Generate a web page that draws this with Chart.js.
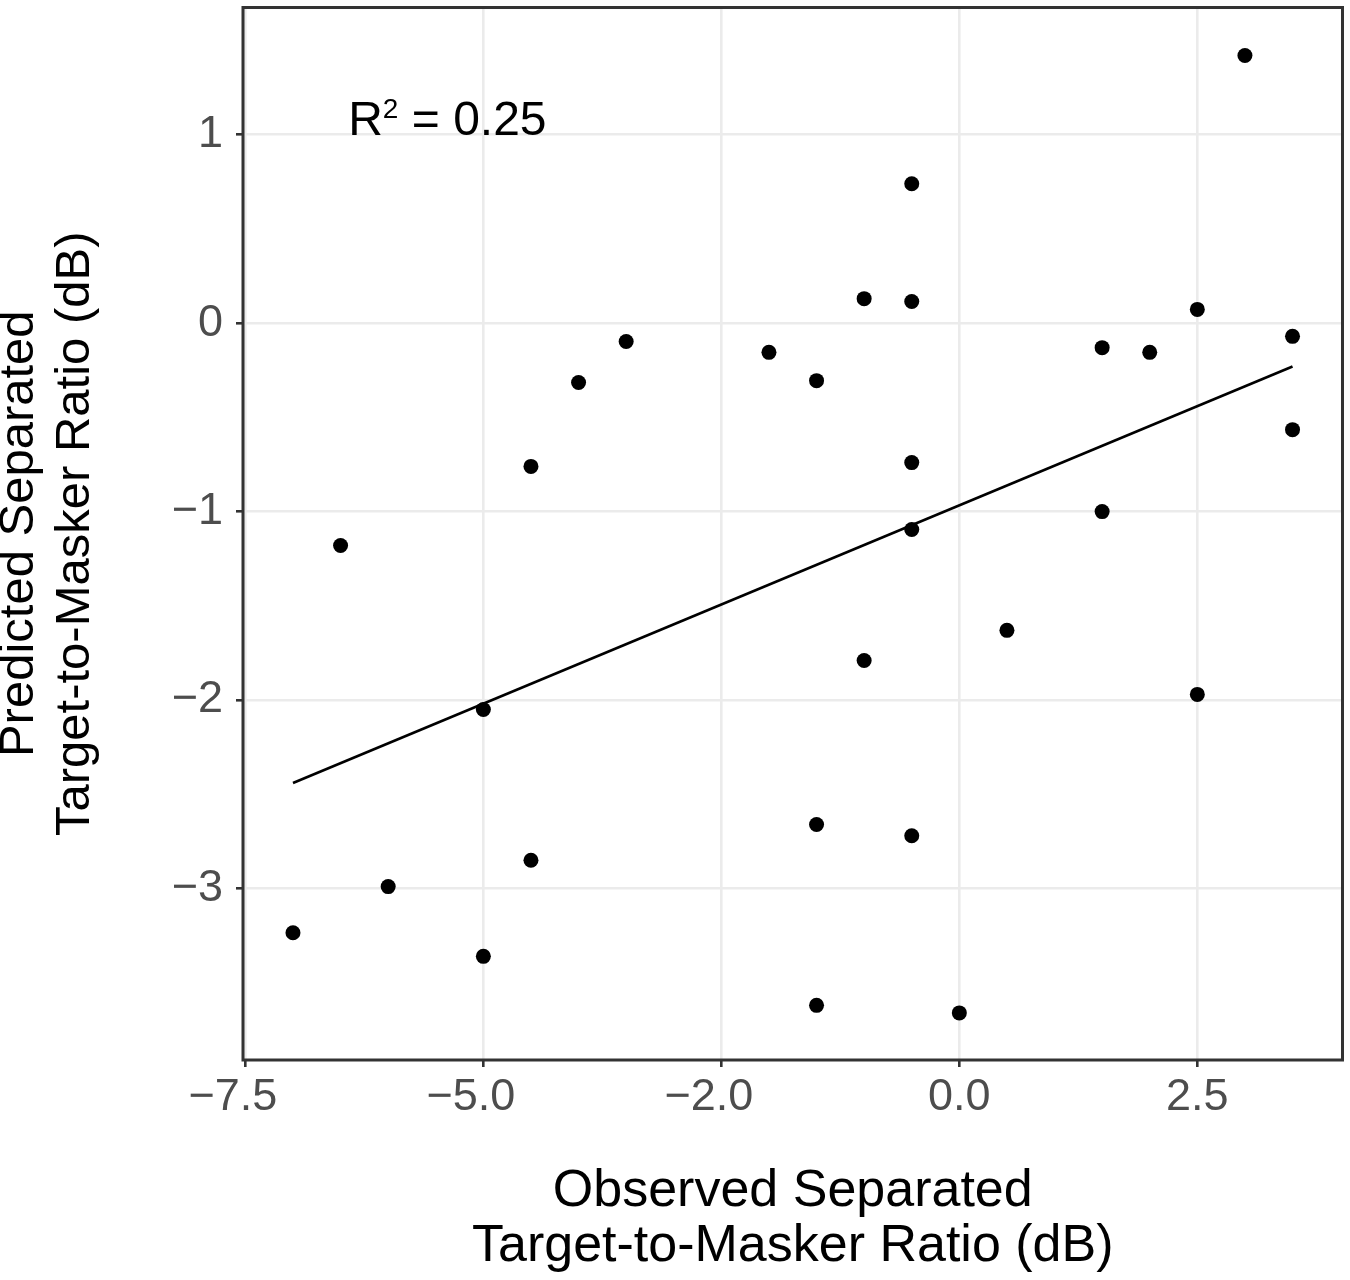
<!DOCTYPE html>
<html>
<head>
<meta charset="utf-8">
<title>Observed vs predicted separated TMR</title>
<script src="https://cdn.jsdelivr.net/npm/chart.js"></script>
<style>
  html, body { margin: 0; padding: 0; background: #ffffff; }
  #wrap { width: 1350px; height: 1280px; }
</style>
</head>
<body>
<div id="wrap"><canvas id="myChart" width="1350" height="1280"></canvas></div>

<script>
// observed (x) and predicted (y) separated target-to-masker ratio, dB
const observedTMR = [
  3.0, -0.5, -1.0, -0.5, 2.5, 3.5, -3.5, -2.0, 1.5, 2.0,
  -4.0, -1.5, 3.5, -4.5, -0.5, 1.5, -0.5, -6.5, 0.5, -1.0,
  2.5, -5.0, -1.5, -0.5, -4.5, -6.0, -7.0, -5.0, -1.5, 0.0
];
const predictedTMR = [
  1.42, 0.74, 0.13, 0.115, 0.073, -0.07, -0.097, -0.155, -0.13, -0.155,
  -0.315, -0.305, -0.565, -0.76, -0.74, -1.0, -1.095, -1.18, -1.63, -1.79,
  -1.97, -2.05, -2.66, -2.72, -2.85, -2.99, -3.235, -3.36, -3.62, -3.66
];

// regression line end points
const fitX = [-7.0, 3.5];
const fitY = [-2.44, -0.23];

const xTickValues = [-7.5, -5.0, -2.5, 0.0, 2.5];
const xTickLabels = ['\u22127.5', '\u22125.0', '\u22122.0', '0.0', '2.5'];
const yTickValues = [-3, -2, -1, 0, 1];
const yTickLabels = ['\u22123', '\u22122', '\u22121', '0', '1'];

const r2Label = { x: -6.42, y: 1.0, value: '0.25' };

const FONT = "'Liberation Sans', Arial, Helvetica, sans-serif";
const AXIS_DARK = '#333333';

const panelBorder = {
  id: 'panelBorder',
  afterDraw(chart) {
    const { ctx, chartArea: a } = chart;
    ctx.save();
    ctx.strokeStyle = AXIS_DARK;
    ctx.lineWidth = 3;
    ctx.strokeRect(a.left, a.top, a.right - a.left, a.bottom - a.top);
    ctx.restore();
  }
};

// "R² = 0.25" annotation with a real superscript
const r2Text = {
  id: 'r2Text',
  afterDatasetsDraw(chart) {
    const { ctx, scales } = chart;
    let x = scales.x.getPixelForValue(r2Label.x);
    const y = scales.y.getPixelForValue(r2Label.y);
    ctx.save();
    ctx.fillStyle = '#000000';
    ctx.textBaseline = 'alphabetic';
    ctx.textAlign = 'left';
    ctx.font = '48px ' + FONT;
    ctx.fillText('R', x, y);
    x += ctx.measureText('R').width;
    ctx.font = '28px ' + FONT;
    ctx.fillText('2', x, y - 17);
    x += ctx.measureText('2').width;
    ctx.font = '48px ' + FONT;
    ctx.fillText(' = ' + r2Label.value, x, y);
    ctx.restore();
  }
};

const points = observedTMR.map((v, i) => ({ x: v, y: predictedTMR[i] }));
const fitLine = fitX.map((v, i) => ({ x: v, y: fitY[i] }));

// the source plot sets negative labels a little left of their tick
const xLabelText = (v) => {
  const s = xTickLabels[xTickValues.indexOf(v)];
  return s.startsWith('\u2212') ? s + '\u00a0\u00a0' : s;
};

new Chart(document.getElementById('myChart'), {
  type: 'scatter',
  data: {
    datasets: [
      {
        label: 'fit',
        type: 'line',
        data: fitLine,
        borderColor: '#000000',
        borderWidth: 2.6,
        pointRadius: 0,
        fill: false,
        order: 2
      },
      {
        label: 'participants',
        data: points,
        backgroundColor: '#000000',
        borderWidth: 0,
        pointRadius: 7.5,
        order: 1
      }
    ]
  },
  plugins: [panelBorder, r2Text],
  options: {
    responsive: false,
    animation: false,
    devicePixelRatio: 1,
    layout: { padding: { left: 0, right: 6, top: 5, bottom: 0 } },
    plugins: {
      legend: { display: false },
      tooltip: { enabled: false }
    },
    scales: {
      x: {
        type: 'linear',
        min: -7.525,
        max: 4.025,
        afterBuildTicks: (scale) => { scale.ticks = xTickValues.map(v => ({ value: v })); },
        afterFit: (scale) => {
          scale.height = 220;
          scale.paddingLeft = 0;
          scale.paddingRight = 0;
        },
        ticks: {
          callback: xLabelText,
          color: '#4d4d4d',
          font: { family: FONT, size: 45, lineHeight: 1 },
          padding: 8,
          maxRotation: 0,
          autoSkip: false
        },
        grid: {
          color: '#ebebeb',
          lineWidth: 2.6,
          tickColor: AXIS_DARK,
          tickWidth: 2.6,
          tickLength: 7
        },
        border: { display: false },
        title: {
          display: true,
          text: ['Observed Separated', 'Target-to-Masker Ratio (dB)'],
          color: '#000000',
          font: { family: FONT, size: 52, lineHeight: 1.06 },
          padding: { top: 0, bottom: 6 }
        }
      },
      y: {
        type: 'linear',
        min: -3.91,
        max: 1.675,
        afterBuildTicks: (scale) => { scale.ticks = yTickValues.map(v => ({ value: v })); },
        afterFit: (scale) => {
          scale.width = 243;
          scale.paddingTop = 0;
          scale.paddingBottom = 0;
        },
        ticks: {
          callback: (v) => yTickLabels[yTickValues.indexOf(v)],
          color: '#4d4d4d',
          font: { family: FONT, size: 45, lineHeight: 1 },
          padding: 13,
          autoSkip: false
        },
        grid: {
          color: '#ebebeb',
          lineWidth: 2.6,
          tickColor: AXIS_DARK,
          tickWidth: 2.6,
          tickLength: 7
        },
        border: { display: false },
        title: {
          display: true,
          text: ['Predicted Separated', 'Target-to-Masker Ratio (dB)'],
          color: '#000000',
          font: { family: FONT, size: 49, lineHeight: 1.14 },
          padding: { top: -8, bottom: 0 }
        }
      }
    }
  }
});
</script>
</body>
</html>
